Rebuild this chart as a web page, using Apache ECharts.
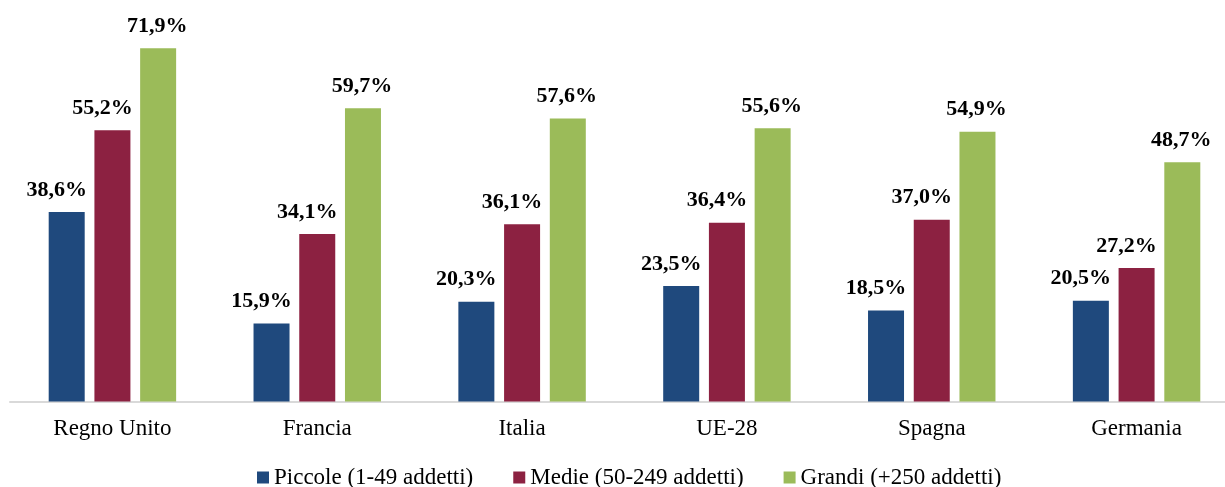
<!DOCTYPE html>
<html>
<head>
<meta charset="utf-8">
<script src="https://cdn.jsdelivr.net/npm/echarts@6/dist/echarts.min.js"></script>
<style>
  html, body { margin: 0; padding: 0; background: #ffffff; }
  #chart { width: 1225px; height: 487px; }
</style>
</head>
<body>
<div id="chart"></div>
<script>
// Quota di imprese per classe dimensionale, per paese
const paesi = ['Regno Unito', 'Francia', 'Italia', 'UE-28', 'Spagna', 'Germania'];
const serieNomi = ['Piccole (1-49 addetti)', 'Medie (50-249 addetti)', 'Grandi (+250 addetti)'];
const piccole = [38.6, 15.9, 20.3, 23.5, 18.5, 20.5];
const medie   = [55.2, 34.1, 36.1, 36.4, 37.0, 27.2];
const grandi  = [71.9, 59.7, 57.6, 55.6, 54.9, 48.7];

const colori = ['#1F497D', '#8C2141', '#9BBB59'];
const serif = '"Liberation Serif", "Times New Roman", serif';

const fmt = v => v.toFixed(1).replace('.', ',') + '%';

function barSeries(name, data, color, dx) {
  return {
    name: name,
    type: 'bar',
    data: data,
    barWidth: 36,
    barGap: '27%',
    itemStyle: { color: color },
    label: {
      show: true,
      position: 'top',
      distance: 11,
      offset: [dx, 0],
      formatter: p => fmt(p.value),
      fontFamily: serif,
      fontWeight: 'bold',
      fontSize: 22,
      color: '#000000'
    }
  };
}

const chart = echarts.init(document.getElementById('chart'), null, { renderer: 'canvas' });
chart.setOption({
  animation: false,
  backgroundColor: '#ffffff',
  grid: { left: 10, top: 8.5, right: -14, bottom: 85.5, outerBoundsMode: 'none', containLabel: false },
  legend: {
    left: 252,
    top: 461,
    icon: 'rect',
    itemWidth: 12,
    itemHeight: 12,
    itemGap: 40,
    textStyle: { fontFamily: serif, fontSize: 23, color: '#000000' },
    data: serieNomi
  },
  xAxis: {
    type: 'category',
    data: paesi,
    axisTick: { show: false },
    axisLine: { lineStyle: { color: '#D9D9D9', width: 2 } },
    axisLabel: { interval: 0, margin: 16, fontFamily: serif, fontSize: 23, color: '#000000' }
  },
  yAxis: {
    type: 'value',
    min: 0,
    max: 80,
    show: false,
    splitLine: { show: false }
  },
  series: [
    barSeries(serieNomi[0], piccole, colori[0], -10),
    barSeries(serieNomi[1], medie, colori[1], -10),
    barSeries(serieNomi[2], grandi, colori[2], -1)
  ]
});
</script>
</body>
</html>
